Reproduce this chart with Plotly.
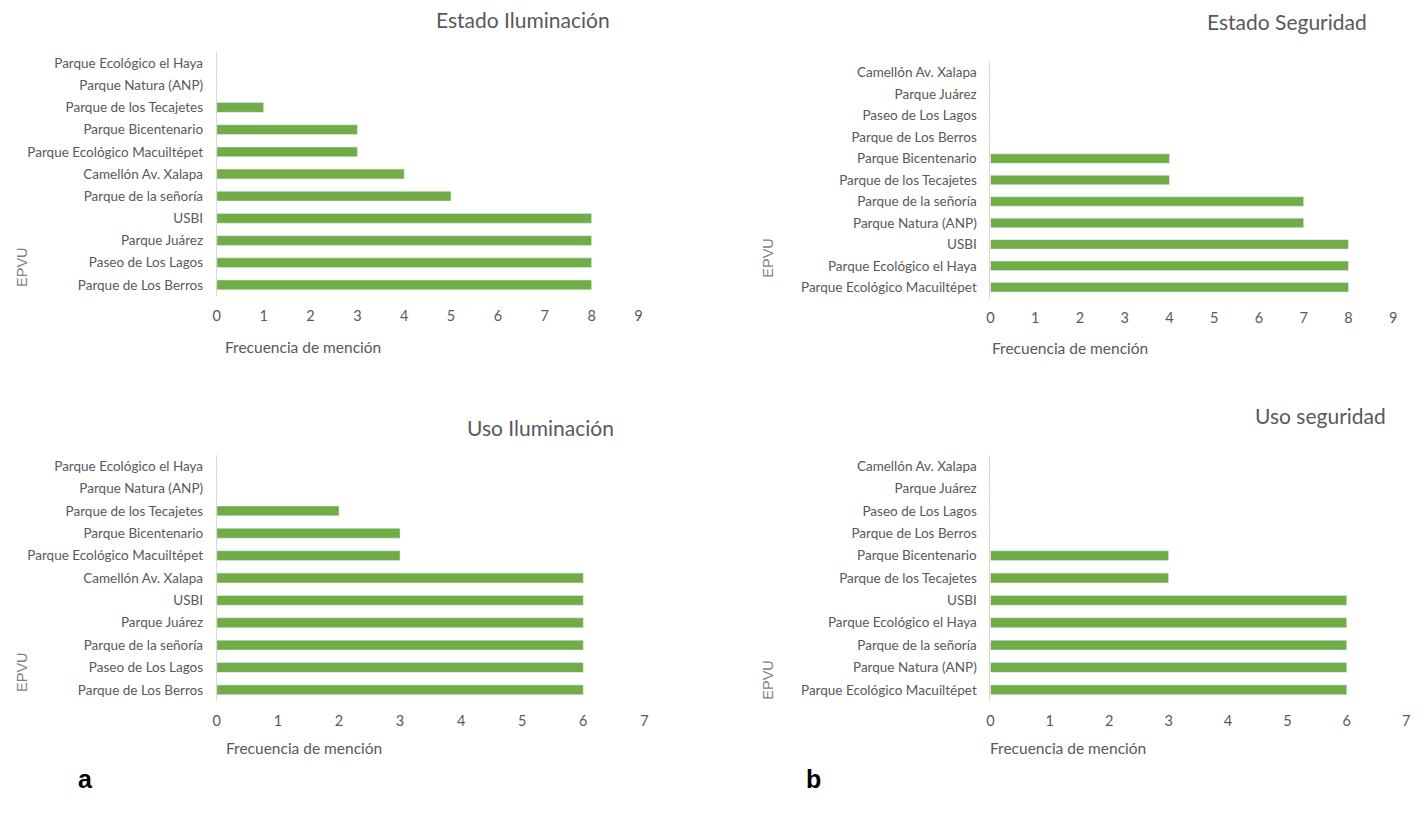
import plotly.graph_objects as go

# ---- data -------------------------------------------------------------
estado_ilum_cats = ["Parque de Los Berros", "Paseo de Los Lagos", "Parque Juárez", "USBI",
                    "Parque de la señoría", "Camellón Av. Xalapa", "Parque Ecológico Macuiltépet",
                    "Parque Bicentenario", "Parque de los Tecajetes", "Parque Natura (ANP)",
                    "Parque Ecológico el Haya"]
estado_ilum_vals = [8, 8, 8, 8, 5, 4, 3, 3, 1, 0, 0]

estado_seg_cats = ["Parque Ecológico Macuiltépet", "Parque Ecológico el Haya", "USBI",
                   "Parque Natura (ANP)", "Parque de la señoría", "Parque de los Tecajetes",
                   "Parque Bicentenario", "Parque de Los Berros", "Paseo de Los Lagos",
                   "Parque Juárez", "Camellón Av. Xalapa"]
estado_seg_vals = [8, 8, 8, 7, 7, 4, 4, 0, 0, 0, 0]

uso_ilum_cats = ["Parque de Los Berros", "Paseo de Los Lagos", "Parque de la señoría",
                 "Parque Juárez", "USBI", "Camellón Av. Xalapa", "Parque Ecológico Macuiltépet",
                 "Parque Bicentenario", "Parque de los Tecajetes", "Parque Natura (ANP)",
                 "Parque Ecológico el Haya"]
uso_ilum_vals = [6, 6, 6, 6, 6, 6, 3, 3, 2, 0, 0]

uso_seg_cats = ["Parque Ecológico Macuiltépet", "Parque Natura (ANP)", "Parque de la señoría",
                "Parque Ecológico el Haya", "USBI", "Parque de los Tecajetes",
                "Parque Bicentenario", "Parque de Los Berros", "Paseo de Los Lagos",
                "Parque Juárez", "Camellón Av. Xalapa"]
uso_seg_vals = [6, 6, 6, 6, 6, 3, 3, 0, 0, 0, 0]

titles = ["Estado Iluminación", "Estado Seguridad", "Uso Iluminación", "Uso seguridad"]
x_max = [9, 9, 7, 7]
x_title = "Frecuencia de mención"
y_title = "EPVU"
panel_tags = ["a", "b"]

# ---- styling ----------------------------------------------------------
W, H = 1427, 822
BAR = "#70AD47"
TXT = "#595959"
AXIS = "#D9D9D9"
FONT = "Lato"

# panel boxes in pixels: (x0, x1, ytop, ybottom)
boxes = [(214, 638, 52, 296), (992, 1397, 62, 298),
         (214, 644, 455, 701), (992, 1410, 455, 701)]
title_pos = [(522, 19), (1290, 22), (540, 427), (1324, 415)]
xtitle_pos = [(220, 347), (992, 348), (221, 748), (990, 748)]
ytitle_pos = [(18, 267), (768, 258), (18, 672), (768, 680)]
tag_pos = [(82, 779), (814, 779)]


def px(x):
    return x / W


def py(y):
    return 1 - y / H


series = [(estado_ilum_cats, estado_ilum_vals), (estado_seg_cats, estado_seg_vals),
          (uso_ilum_cats, uso_ilum_vals), (uso_seg_cats, uso_seg_vals)]

fig = go.Figure()
layout = dict(width=W, height=H, margin=dict(l=0, r=0, t=0, b=0),
              paper_bgcolor="white", plot_bgcolor="white", showlegend=False,
              bargap=0.56)
annotations = []

for i, ((cats, vals), box) in enumerate(zip(series, boxes)):
    n = "" if i == 0 else str(i + 1)
    x0, x1, yt, yb = box
    fig.add_trace(go.Bar(x=vals, y=cats, orientation="h", marker_color=BAR,
                         xaxis="x" + n, yaxis="y" + n, hoverinfo="x+y"))
    layout["xaxis" + n] = dict(domain=[px(x0), px(x1)], range=[0, x_max[i]],
                               anchor="y" + n, dtick=1, showgrid=False, zeroline=False,
                               showline=False, ticks="", ticklabelstandoff=9,
                               tickfont=dict(family=FONT, size=14.5, color=TXT))
    layout["yaxis" + n] = dict(domain=[py(yb), py(yt)], anchor="x" + n,
                               categoryorder="array", categoryarray=cats,
                               range=[-0.5, len(cats) - 0.5],
                               showgrid=False, zeroline=False, showline=True,
                               linecolor=AXIS, linewidth=1, ticks="",
                               ticklabelstandoff=10,
                               tickfont=dict(family=FONT, size=13.5, color=TXT))
    tx, ty = title_pos[i]
    annotations.append(dict(text=titles[i], x=px(tx), y=py(ty), xref="paper", yref="paper",
                            xanchor="center", yanchor="middle", showarrow=False,
                            font=dict(family=FONT, size=21, color=TXT)))
    ax, ay = xtitle_pos[i]
    annotations.append(dict(text=x_title, x=px(ax), y=py(ay), xref="paper", yref="paper",
                            xanchor="left", yanchor="middle", showarrow=False,
                            font=dict(family=FONT, size=15.5, color=TXT)))
    ex, ey = ytitle_pos[i]
    annotations.append(dict(text=y_title, x=px(ex), y=py(ey), xref="paper", yref="paper",
                            xanchor="center", yanchor="middle", showarrow=False,
                            textangle=-90,
                            font=dict(family="Liberation Sans", size=14.5, color="#7F7F7F")))

for tag, (gx, gy) in zip(panel_tags, tag_pos):
    annotations.append(dict(text="<b>%s</b>" % tag, x=px(gx), y=py(gy), xref="paper",
                            yref="paper", xanchor="center", yanchor="middle",
                            showarrow=False,
                            font=dict(family="Liberation Sans", size=25, color="black")))

layout["annotations"] = annotations
fig.update_layout(**layout)
fig.write_html("out.html")
